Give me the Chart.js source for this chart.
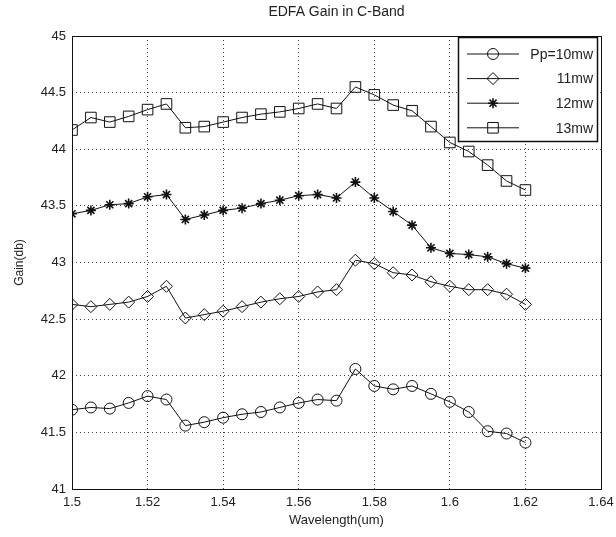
<!DOCTYPE html>
<html>
<head>
<meta charset="utf-8">
<script src="https://cdn.jsdelivr.net/npm/chart.js@4/dist/chart.umd.min.js"></script>
<style>
  html, body { margin: 0; padding: 0; background: #fff; }
  #wrap { width: 616px; height: 537px; }
</style>
</head>
<body>
<div id="wrap"><canvas id="gain"></canvas></div>
<script>
// EDFA gain vs wavelength, one curve per pump power
const wavelength = [1.5, 1.505, 1.51, 1.515, 1.52, 1.525, 1.53, 1.535, 1.54, 1.545, 1.55, 1.555, 1.56,
                    1.565, 1.57, 1.575, 1.58, 1.585, 1.59, 1.595, 1.6, 1.605, 1.61, 1.615, 1.62];
const gain10 = [41.70, 41.72, 41.71, 41.76, 41.82, 41.79, 41.56, 41.59, 41.63, 41.66, 41.68, 41.72, 41.76,
                41.79, 41.78, 42.06, 41.91, 41.88, 41.91, 41.84, 41.77, 41.68, 41.51, 41.49, 41.41];
const gain11 = [42.63, 42.61, 42.63, 42.65, 42.70, 42.79, 42.51, 42.54, 42.57, 42.61, 42.65, 42.68, 42.70,
                42.74, 42.76, 43.02, 42.99, 42.91, 42.89, 42.83, 42.79, 42.76, 42.76, 42.72, 42.63];
const gain12 = [43.43, 43.46, 43.51, 43.52, 43.58, 43.60, 43.38, 43.42, 43.46, 43.48, 43.52, 43.55, 43.59,
                43.60, 43.57, 43.71, 43.57, 43.45, 43.33, 43.13, 43.08, 43.07, 43.05, 42.99, 42.95];
const gain13 = [44.17, 44.28, 44.24, 44.29, 44.35, 44.40, 44.19, 44.20, 44.24, 44.28, 44.31, 44.33, 44.36,
                44.40, 44.36, 44.55, 44.48, 44.39, 44.34, 44.20, 44.06, 43.98, 43.86, 43.72, 43.64];
const seriesNames = ['Pp=10mw', '11mw', '12mw', '13mw'];
const xTicks = [1.5, 1.52, 1.54, 1.56, 1.58, 1.6, 1.62, 1.64];
const yTicks = [41, 41.5, 42, 42.5, 43, 43.5, 44, 44.5, 45];

const FONT = 'Liberation Sans, Arial, sans-serif';
const INK = '#111';

const styles = [
  { pointStyle: 'circle',  radius: 5.5, bw: 1 },
  { pointStyle: 'rectRot', radius: 6,   bw: 1 },
  { pointStyle: 'star',    radius: 5,   bw: 1.6 },
  { pointStyle: 'rect',    radius: 7.5, bw: 1 }
];

const mkSet = (name, vals, st) => ({
  label: name,
  data: vals.map((v, i) => ({ x: wavelength[i], y: v })),
  borderColor: INK, borderWidth: 1,
  backgroundColor: 'transparent',
  pointStyle: st.pointStyle, pointRadius: st.radius, pointBorderWidth: st.bw,
  pointBorderColor: INK, pointBackgroundColor: 'transparent',
  tension: 0, fill: false
});

// box around plot, title and the inset legend
const frame = {
  id: 'frame',
  afterDraw(chart) {
    const { ctx, chartArea: a } = chart;
    ctx.save();
    ctx.strokeStyle = INK; ctx.lineWidth = 1;
    ctx.strokeRect(a.left + 0.5, a.top + 0.5, a.right - a.left, a.bottom - a.top);

    ctx.fillStyle = '#222';
    ctx.font = '14px ' + FONT;
    ctx.textAlign = 'center'; ctx.textBaseline = 'middle';
    ctx.fillText('EDFA Gain in C-Band', (a.left + a.right) / 2, 12);

    // legend
    const lx = 458.5, ly = 37.5, lw = 139, lh = 104;
    ctx.fillStyle = '#fff';
    ctx.fillRect(lx, ly, lw, lh);
    ctx.lineWidth = 1.5; ctx.strokeStyle = INK;
    ctx.strokeRect(lx, ly, lw, lh);
    ctx.font = '14px ' + FONT;
    ctx.textAlign = 'right';
    seriesNames.forEach((name, i) => {
      const y = 54 + i * 24.6;
      ctx.lineWidth = 1; ctx.strokeStyle = INK;
      ctx.beginPath(); ctx.moveTo(467, y); ctx.lineTo(519, y); ctx.stroke();
      ctx.fillStyle = 'rgba(0,0,0,0)';
      ctx.lineWidth = styles[i].bw;
      Chart.helpers.drawPoint(ctx, { pointStyle: styles[i].pointStyle, radius: styles[i].radius, rotation: 0, borderWidth: styles[i].bw }, 493, y);
      ctx.fillStyle = '#222';
      ctx.fillText(name, 593, y + 1);
    });
    ctx.restore();
  }
};

const tickFont = { family: FONT, size: 13 };
const gridOpts = { color: '#444', lineWidth: 1, drawTicks: false };

new Chart(document.getElementById('gain'), {
  type: 'line',
  data: {
    datasets: [
      mkSet(seriesNames[0], gain10, styles[0]),
      mkSet(seriesNames[1], gain11, styles[1]),
      mkSet(seriesNames[2], gain12, styles[2]),
      mkSet(seriesNames[3], gain13, styles[3])
    ]
  },
  options: {
    responsive: true, maintainAspectRatio: false, animation: false,
    layout: { padding: { top: 36, right: 15, bottom: 0, left: 0 } },
    plugins: { legend: { display: false }, tooltip: { enabled: false } },
    scales: {
      x: {
        type: 'linear', min: 1.5, max: 1.64,
        afterBuildTicks: s => { s.ticks = xTicks.map(v => ({ value: v })); },
        afterFit: s => { s.height = 48; s.paddingLeft = 0; s.paddingRight = 0; },
        ticks: { color: '#222', font: tickFont, padding: 6, maxRotation: 0, callback: v => String(+v.toFixed(3)) },
        grid: { ...gridOpts },
        border: { display: false, dash: [1, 3] },
        title: { display: true, text: 'Wavelength(um)', color: '#222', font: { family: FONT, size: 13 }, padding: { top: 0, bottom: 9 } }
      },
      y: {
        min: 41, max: 45,
        afterBuildTicks: s => { s.ticks = yTicks.map(v => ({ value: v })); },
        afterFit: s => { s.width = 72; },
        ticks: { color: '#222', font: tickFont, padding: 6, callback: v => String(+v.toFixed(2)) },
        grid: { ...gridOpts },
        border: { display: false, dash: [1, 3] },
        title: { display: true, text: 'Gain(db)', color: '#222', font: { family: FONT, size: 12 }, padding: { top: 12, bottom: 0 } }
      }
    }
  },
  plugins: [frame]
});
</script>
</body>
</html>
